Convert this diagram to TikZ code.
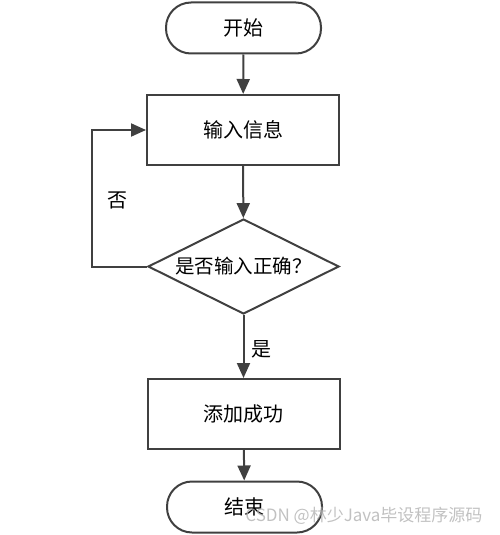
\documentclass[tikz,border=0pt]{standalone}
\usepackage{fontspec}
\newfontfamily\cjk{Noto Sans CJK SC}
\usetikzlibrary{shapes.geometric,arrows.meta}
\tikzset{
  line/.style={draw=black!75, line width=2pt},
  arr/.style={line, -{Triangle[length=15pt,width=13pt]}},
  term/.style={line, rounded corners=25pt, minimum width=155pt, minimum height=51pt, inner sep=0pt, font=\cjk\fontsize{20}{23}\selectfont},
  proc/.style={line, minimum width=192pt, minimum height=70pt, inner sep=0pt, font=\cjk\fontsize{20}{23}\selectfont},
  dec/.style={line, diamond, aspect=2, minimum width=191pt, minimum height=95pt, inner sep=0pt, font=\cjk\fontsize{19.5}{22}\selectfont},
  lab/.style={font=\cjk\fontsize{20}{23}\selectfont},
}
\begin{document}
\begin{tikzpicture}[x=1pt,y=-1pt]
\useasboundingbox (0,0) rectangle (499,535);
\node[term] (start) at (243.5,28) {开始};
\node[proc] (input) at (243,130) {输入信息};
\node[dec] (check) at (243.5,266.5) {是否输入正确？};
\node[proc] (add) at (243.5,414) {添加成功};
\node[term] (end) at (244.5,507) {结束};
\coordinate (lc) at (92,266.5);
\draw[arr] (start) -- (input);
\draw[arr] (input) -- (check);
\draw[arr] (check) -- node[lab, right=4pt, pos=0.55] (yes) {是} (add);
\draw[arr] (add) -- (end);
\draw[arr] (check.west) -- (lc) |- (input.west);
\node[lab] (no) at (117,200) {否};
\node[font=\cjk\fontsize{17}{20}\selectfont, text=black!30, opacity=0.8, anchor=east] (wm) at (486,516) {CSDN @林少Java毕设程序源码};
\end{tikzpicture}
\end{document}
